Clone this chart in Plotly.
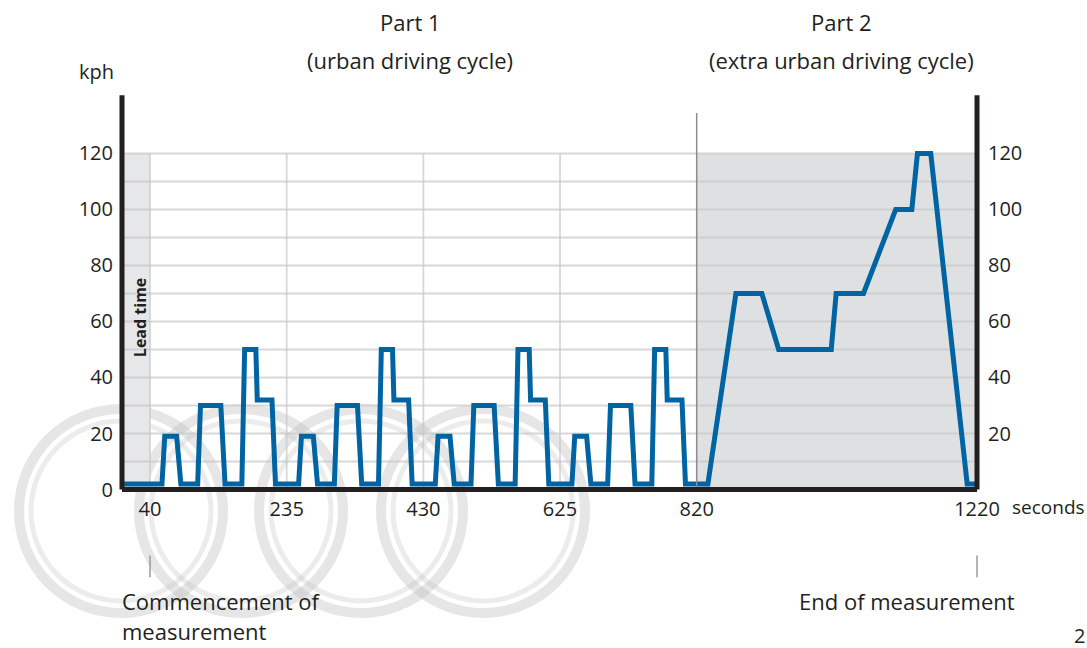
import plotly.graph_objects as go

# ---- data -------------------------------------------------------------
# Part 1: urban driving cycle (four repetitions after a 40 s lead time)
urban_t = [0, 57, 61, 78, 84, 108, 112, 141, 147, 171, 175, 191, 193, 214, 219,
           252, 256, 273, 279, 303, 307, 336, 342, 366, 370, 386, 388, 409, 414,
           447, 451, 468, 474, 498, 502, 531, 537, 561, 565, 581, 583, 604, 609,
           642, 646, 663, 669, 693, 697, 726, 732, 756, 760, 776, 778, 799, 804]
urban_kph = [2, 2, 19, 19, 2, 2, 30, 30, 2, 2, 50, 50, 32, 32, 2,
             2, 19, 19, 2, 2, 30, 30, 2, 2, 50, 50, 32, 32, 2,
             2, 19, 19, 2, 2, 30, 30, 2, 2, 50, 50, 32, 32, 2,
             2, 19, 19, 2, 2, 30, 30, 2, 2, 50, 50, 32, 32, 2]

# Part 2: extra urban driving cycle
extra_t = [836, 876, 913, 937, 1012, 1019, 1058, 1104, 1127, 1135, 1154, 1206, 1220]
extra_kph = [2, 70, 70, 50, 50, 70, 70, 100, 100, 120, 120, 2, 2]

x_ticks = [40, 235, 430, 625, 820, 1220]
y_ticks_left = [0, 20, 40, 60, 80, 100, 120]
y_ticks_right = [20, 40, 60, 80, 100, 120]
v_grid = [40, 235, 430, 625]
h_grid = list(range(10, 130, 10))

LEAD_END = 40
PART2_START = 820
T_END = 1220
GRID_TOP = 120
AXIS_TOP = 140.8

# ---- layout geometry ----------------------------------------------------
W, H = 1087, 648
ML, MR, MT, MB = 118, 106, 93, 153
X_RANGE = [-5.71, 1225.7]
Y_RANGE = [-1.964, 141.6]

INK = "#231f20"
BLUE = "#0064a3"
FONT = "Open Sans"


def paper_x(px):
    return (px - ML) / (W - ML - MR)


def paper_y(py):
    return (H - MB - py) / (H - MT - MB)


def data_to_paper_x(t):
    return (t - X_RANGE[0]) / (X_RANGE[1] - X_RANGE[0])


def data_to_paper_y(v):
    return (v - Y_RANGE[0]) / (Y_RANGE[1] - Y_RANGE[0])


shapes = []

# shaded regions: lead time and part 2
shapes.append(dict(type="rect", xref="x", yref="y", x0=0, x1=LEAD_END, y0=0, y1=GRID_TOP,
                   fillcolor="#e6e7e8", line_width=0, layer="below"))
shapes.append(dict(type="rect", xref="x", yref="y", x0=PART2_START, x1=T_END, y0=0, y1=GRID_TOP,
                   fillcolor="#dfe0e2", line_width=0, layer="below"))

# grid
for v in h_grid:
    shapes.append(dict(type="line", xref="x", yref="y", x0=0, x1=T_END, y0=v, y1=v,
                       line=dict(color="rgba(200,200,202,0.7)", width=1.8), layer="below"))
for t in v_grid:
    shapes.append(dict(type="line", xref="x", yref="y", x0=t, x1=t, y0=0, y1=GRID_TOP,
                       line=dict(color="rgba(200,200,202,0.7)", width=1.8), layer="below"))

# embossed ring watermark
ring_centres = [(121, 511), (241, 511), (361, 511), (483, 511)]
for cx, cy in ring_centres:
    for r, w, col in [(102, 10, "rgba(185,185,185,0.36)"), (90, 5, "rgba(185,185,185,0.28)")]:
        shapes.append(dict(type="circle", xref="paper", yref="paper",
                           xsizemode="pixel", ysizemode="pixel",
                           xanchor=paper_x(cx), yanchor=paper_y(cy),
                           x0=-r, x1=r, y0=-r, y1=r,
                           line=dict(color=col, width=w), layer="below"))

# boundary between part 1 and part 2
shapes.append(dict(type="line", xref="x", yref="y", x0=PART2_START, x1=PART2_START, y0=0, y1=134.5,
                   line=dict(color="#8c8c8c", width=1.5), layer="above"))

# axes frame
for x0, x1, y0, y1 in [(0, 0, 0, AXIS_TOP), (T_END, T_END, 0, AXIS_TOP), (0, T_END, 0, 0)]:
    shapes.append(dict(type="line", xref="x", yref="y", x0=x0, x1=x1, y0=y0, y1=y1,
                       line=dict(color=INK, width=5), layer="above"))

# start / end markers below the axis
for t in (LEAD_END, T_END):
    shapes.append(dict(type="line", xref="paper", yref="paper",
                       x0=data_to_paper_x(t), x1=data_to_paper_x(t),
                       y0=data_to_paper_y(-23.6), y1=data_to_paper_y(-31.3),
                       line=dict(color="#9a9a9a", width=1.5)))

fig = go.Figure()
fig.add_trace(go.Scatter(x=urban_t + extra_t, y=urban_kph + extra_kph, mode="lines",
                         line=dict(color=BLUE, width=5, shape="linear"),
                         hoverinfo="skip", showlegend=False))
fig.add_trace(go.Scatter(x=[None], y=[None], yaxis="y2", showlegend=False, hoverinfo="skip"))

tick_font = dict(family=FONT, size=20, color=INK)
label_font = dict(family=FONT, size=22, color=INK)
# labels placed in chart units (seconds, kph) and converted to paper space,
# since several of them sit outside the plotted range
annotations = [
    dict(x=411, y=167, text="Part 1", font=label_font),
    dict(x=411, y=153.4, text="(urban driving cycle)", font=label_font),
    dict(x=1027, y=167, text="Part 2", font=label_font),
    dict(x=1026, y=153.4, text="(extra urban driving cycle)", font=label_font),
    dict(x=-35.7, y=149.1, text="kph", font=tick_font),
    dict(x=1267, y=-6.4, text="seconds", xanchor="left", font=dict(family=FONT, size=19, color=INK)),
    dict(x=-2.9, y=-39.8, text="Commencement of", xanchor="left", font=label_font),
    dict(x=963, y=-39.8, text="End of measurement", xanchor="left", font=label_font),
]
ann = []
for a in annotations:
    d = dict(xref="paper", yref="paper", showarrow=False,
             xanchor="center", yanchor="middle")
    d.update(a)
    d["x"] = data_to_paper_x(a["x"])
    d["y"] = data_to_paper_y(a["y"])
    ann.append(d)
# second line of the start label sits on the bottom edge of the figure
ann.append(dict(xref="paper", yref="paper", x=data_to_paper_x(-2.9), y=paper_y(648),
                text="measurement", xanchor="left", yanchor="bottom", showarrow=False,
                font=label_font))
ann.append(dict(xref="x", yref="y", x=25.7, y=61.2, text="<b>Lead time</b>", textangle=-90,
                showarrow=False, font=dict(family=FONT, size=16, color=INK)))
ann.append(dict(xref="paper", yref="paper", x=paper_x(1072), y=paper_y(635), text="2",
                xanchor="left", yanchor="middle", showarrow=False, font=tick_font))

fig.update_layout(
    width=W, height=H,
    margin=dict(l=ML, r=MR, t=MT, b=MB),
    paper_bgcolor="white", plot_bgcolor="white",
    font=tick_font,
    shapes=shapes,
    annotations=ann,
    xaxis=dict(range=X_RANGE, tickvals=x_ticks, ticktext=[str(v) for v in x_ticks],
               showgrid=False, zeroline=False, showline=False, ticks="",
               tickfont=tick_font, ticklabelstandoff=0, fixedrange=True),
    yaxis=dict(range=Y_RANGE, tickvals=y_ticks_left, ticktext=[str(v) for v in y_ticks_left],
               showgrid=False, zeroline=False, showline=False, ticks="",
               tickfont=tick_font, ticklabelstandoff=4, fixedrange=True),
    yaxis2=dict(range=Y_RANGE, overlaying="y", side="right", anchor="x",
                tickvals=y_ticks_right, ticktext=[str(v) for v in y_ticks_right],
                showgrid=False, zeroline=False, showline=False, ticks="",
                tickfont=tick_font, ticklabelstandoff=6, fixedrange=True),
)

fig.write_html("out.html")
